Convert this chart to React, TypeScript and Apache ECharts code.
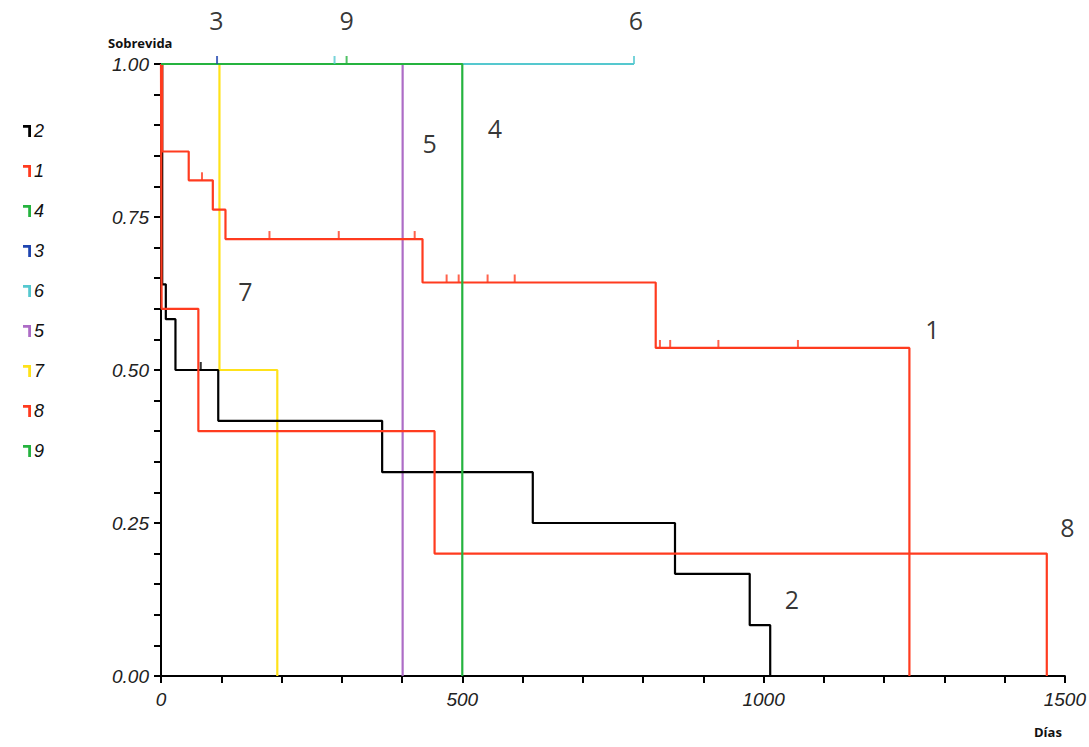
import React, { useEffect, useRef } from "react";
import * as echarts from "echarts";

// ---- Data (Kaplan-Meier steps) ----
const s1Days = [0, 2, 46, 86, 107, 434, 821, 1242];
const s1Surv = [1, 0.857, 0.81, 0.762, 0.714, 0.643, 0.536, 0];
const s1CensorDays = [68, 180, 295, 421, 474, 494, 542, 587, 828, 845, 925, 1057];
const s1CensorSurv = [0.81, 0.714, 0.714, 0.714, 0.643, 0.643, 0.643, 0.643, 0.536, 0.536, 0.536, 0.536];

const s2Days = [0, 2, 8, 24, 95, 367, 617, 853, 977, 1011];
const s2Surv = [1, 0.64, 0.583, 0.5, 0.417, 0.333, 0.25, 0.167, 0.083, 0];
const s2CensorDays = [66];
const s2CensorSurv = [0.5];

const s3Days = [0, 93];
const s3Surv = [1, 1];
const s3CensorDays = [93];
const s3CensorSurv = [1];

const s4Days = [0, 500];
const s4Surv = [1, 0];

const s5Days = [0, 401];
const s5Surv = [1, 0];

const s6Days = [0, 785];
const s6Surv = [1, 1];
const s6CensorDays = [288, 785];
const s6CensorSurv = [1, 1];

const s7Days = [0, 97, 193];
const s7Surv = [1, 0.5, 0];

const s8Days = [0, 1, 62, 454, 1470];
const s8Surv = [1, 0.6, 0.4, 0.2, 0];

const s9Days = [0, 308];
const s9Surv = [1, 1];
const s9CensorDays = [308];
const s9CensorSurv = [1];

const legendOrder = ["2", "1", "4", "3", "6", "5", "7", "8", "9"];

const curveLabels = ["3", "9", "6", "5", "4", "7", "1", "8", "2"];
const curveLabelDays = [92, 308, 788, 446, 554, 140, 1280, 1504, 1047];
const curveLabelSurv = [1.072, 1.072, 1.072, 0.871, 0.895, 0.629, 0.567, 0.243, 0.126];

const COLORS: Record<string, string> = {
  "1": "#ff3b1f",
  "2": "#000000",
  "3": "#1f45b0",
  "4": "#25b33f",
  "5": "#ad6cc6",
  "6": "#55c8cf",
  "7": "#ffe21a",
  "8": "#ff3b1f",
  "9": "#25b33f",
};

const zip = (a: number[], b: number[]) => a.map((v, i) => [v, b[i]]);

export default function App() {
  const ref = useRef<HTMLDivElement>(null);

  useEffect(() => {
    if (!ref.current) return;
    const chart = echarts.init(ref.current, undefined, { renderer: "svg" });

    const lineSeries = (name: string, days: number[], surv: number[]) => ({
      name,
      type: "line",
      step: "end",
      data: zip(days, surv),
      showSymbol: false,
      clip: false,
      color: COLORS[name],
      lineStyle: { width: 2.2, color: COLORS[name] },
      z: 2,
    });
    const censorSeries = (name: string, days: number[], surv: number[]) => ({
      name,
      type: "scatter",
      data: zip(days, surv),
      symbol: "rect",
      symbolSize: [2, 8],
      symbolOffset: [0, -4],
      clip: false,
      color: COLORS[name],
      itemStyle: { color: COLORS[name] },
      z: 3,
    });

    const option: any = {
      animation: false,
      backgroundColor: "#ffffff",
      grid: { left: 161, right: 23, top: 64, bottom: 71 },
      legend: {
        data: legendOrder.map((n) => ({ name: n })),
        orient: "vertical",
        left: 18,
        top: 117,
        itemGap: 22,
        itemWidth: 8,
        itemHeight: 12,
        icon: "path://M0,0H10V15H6.5V3.5H0Z",
        selectedMode: false,
        textStyle: {
          fontFamily: "Liberation Sans",
          fontStyle: "italic",
          fontSize: 18,
          color: "#111",
          padding: [0, 0, 0, -2],
        },
      },
      xAxis: {
        type: "value",
        min: 0,
        max: 1500,
        interval: 500,
        axisLine: { show: true, onZero: false, lineStyle: { color: "#000", width: 2 } },
        axisTick: { show: true, length: 7, lineStyle: { color: "#000", width: 2 } },
        minorTick: { show: true, splitNumber: 5, length: 7, lineStyle: { color: "#000", width: 2 } },
        splitLine: { show: false },
        axisLabel: {
          margin: 14,
          fontFamily: "Liberation Sans",
          fontStyle: "italic",
          fontSize: 19,
          color: "#222",
          formatter: (v: number) => String(v),
        },
      },
      yAxis: {
        type: "value",
        min: 0,
        max: 1,
        interval: 0.25,
        axisLine: { show: true, onZero: false, lineStyle: { color: "#000", width: 2 } },
        axisTick: { show: true, length: 7, lineStyle: { color: "#000", width: 2 } },
        minorTick: { show: true, splitNumber: 5, length: 7, lineStyle: { color: "#000", width: 2 } },
        splitLine: { show: false },
        axisLabel: {
          margin: 12,
          fontFamily: "Liberation Sans",
          fontStyle: "italic",
          fontSize: 19,
          color: "#222",
          formatter: (v: number) => v.toFixed(2),
        },
      },
      graphic: [
        {
          type: "text",
          left: 108,
          top: 36,
          style: {
            text: "Sobrevida",
            font: "bold 13px 'Open Sans', 'Liberation Sans', sans-serif",
            fill: "#111",
          },
        },
        {
          type: "text",
          left: 1034,
          top: 725,
          style: {
            text: "Días",
            font: "bold 13px 'Open Sans', 'Liberation Sans', sans-serif",
            fill: "#111",
          },
        },
      ],
      series: [
        lineSeries("6", s6Days, s6Surv),
        censorSeries("6", s6CensorDays, s6CensorSurv),
        lineSeries("3", s3Days, s3Surv),
        censorSeries("3", s3CensorDays, s3CensorSurv),
        lineSeries("5", s5Days, s5Surv),
        lineSeries("7", s7Days, s7Surv),
        lineSeries("2", s2Days, s2Surv),
        censorSeries("2", s2CensorDays, s2CensorSurv),
        lineSeries("8", s8Days, s8Surv),
        lineSeries("1", s1Days, s1Surv),
        censorSeries("1", s1CensorDays, s1CensorSurv),
        lineSeries("9", s9Days, s9Surv),
        censorSeries("9", s9CensorDays, s9CensorSurv),
        lineSeries("4", s4Days, s4Surv),
        {
          name: "labels",
          type: "scatter",
          clip: false,
          symbol: "circle",
          symbolSize: 1,
          itemStyle: { color: "rgba(0,0,0,0)" },
          silent: true,
          data: curveLabels.map((t, i) => ({ value: [curveLabelDays[i], curveLabelSurv[i]], name: t })),
          label: {
            show: true,
            position: "inside",
            formatter: (p: any) => p.name,
            fontFamily: "Open Sans",
            fontSize: 25,
            color: "#000",
          },
          z: 5,
        },
      ],
    };

    chart.setOption(option);
    return () => chart.dispose();
  }, []);

  return (
    <div
      ref={ref}
      style={{ position: "absolute", left: 0, top: 0, width: 1089, height: 747 }}
    />
  );
}
